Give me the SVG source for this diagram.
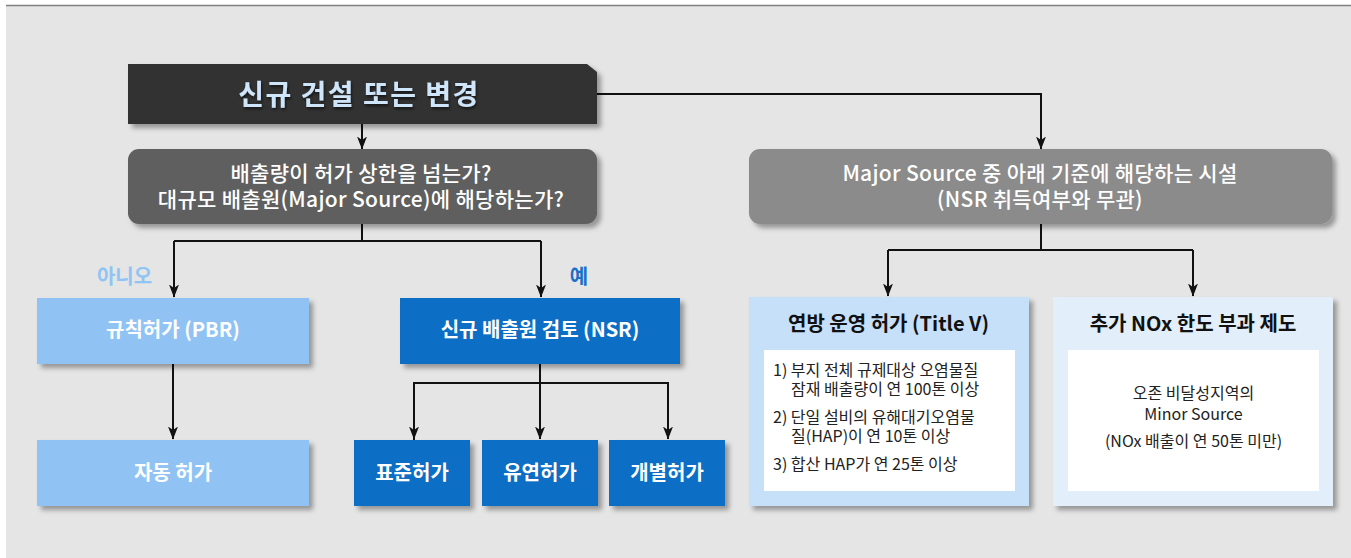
<svg xmlns="http://www.w3.org/2000/svg" width="1351" height="558" viewBox="0 0 1351 558">
  <style>
    .t { font-family: "Noto Sans CJK KR", "Noto Sans", sans-serif; }
    .lbl { font-size: 20px; font-weight: 700; fill: #ffffff; text-anchor: middle; }
    .q { font-size: 21px; font-weight: 500; fill: #ffffff; text-anchor: middle; letter-spacing: 0.3px; }
    .hd { font-size: 20px; font-weight: 700; fill: #111111; text-anchor: middle; }
    .body { font-size: 16px; font-weight: 400; fill: #222222; }
    .conn { fill: none; stroke: #111111; stroke-width: 2; }
  </style>
  <defs>
    <filter id="sh" x="-10%" y="-10%" width="130%" height="140%">
      <feDropShadow dx="4" dy="4" stdDeviation="2.5" flood-color="#000000" flood-opacity="0.35"/>
    </filter>
    <filter id="tsh" x="-10%" y="-20%" width="120%" height="160%">
      <feDropShadow dx="1" dy="2" stdDeviation="1.5" flood-color="#000000" flood-opacity="0.6"/>
    </filter>
    <marker id="ah" markerUnits="userSpaceOnUse" markerWidth="13" markerHeight="10" viewBox="0 0 13 10" refX="12.5" refY="5" orient="auto">
      <path d="M0,0 L13,5 L0,10 L3.5,5 Z" fill="#111111"/>
    </marker>
  </defs>

  <!-- background -->
  <rect x="6" y="5" width="1345" height="553" fill="#e5e5e5"/>
  <line x1="6" y1="5.5" x2="1351" y2="5.5" stroke="#808080" stroke-width="1.5"/>

  <!-- connectors -->
  <g id="connectors">
    <path class="conn" d="M362,124 L362,149" marker-end="url(#ah)"/>
    <path class="conn" d="M597,94 L1041,94 L1041,149" marker-end="url(#ah)"/>
    <path class="conn" d="M362,224 L362,241"/>
    <path class="conn" d="M174,241 L541,241"/>
    <path class="conn" d="M174,241 L174,297" marker-end="url(#ah)"/>
    <path class="conn" d="M541,241 L541,297" marker-end="url(#ah)"/>
    <path class="conn" d="M173,364 L173,439" marker-end="url(#ah)"/>
    <path class="conn" d="M540,364 L540,439" marker-end="url(#ah)"/>
    <path class="conn" d="M414,440 L414,383 L668,383 L668,439" marker-end="url(#ah)"/>
    <path class="conn" d="M414,383 L414,439" marker-end="url(#ah)"/>
    <path class="conn" d="M1041,224 L1041,250"/>
    <path class="conn" d="M888,250 L1193,250"/>
    <path class="conn" d="M888,250 L888,296" marker-end="url(#ah)"/>
    <path class="conn" d="M1193,250 L1193,296" marker-end="url(#ah)"/>
  </g>

  <!-- start node -->
  <g id="start">
    <polygon points="128,64 587,64 597,72 597,124 128,124" fill="#333333" filter="url(#sh)"/>
    <text class="t" x="359" y="105" font-size="28" font-weight="700" fill="#cfe5fa" text-anchor="middle" letter-spacing="1.5" filter="url(#tsh)">신규 건설 또는 변경</text>
  </g>

  <!-- decision -->
  <g id="decision">
    <rect x="128" y="149" width="469" height="75" rx="11" fill="#5e5e5e" filter="url(#sh)"/>
    <text class="t q" x="361" y="181">배출량이 허가 상한을 넘는가?</text>
    <text class="t q" x="361" y="207">대규모 배출원(Major Source)에 해당하는가?</text>
  </g>

  <!-- major source criteria -->
  <g id="major">
    <rect x="749" y="149" width="583" height="75" rx="11" fill="#8b8b8b" filter="url(#sh)"/>
    <text class="t q" x="1040" y="181">Major Source 중 아래 기준에 해당하는 시설</text>
    <text class="t q" x="1040" y="207">(NSR 취득여부와 무관)</text>
  </g>

  <!-- branch labels -->
  <g id="label-no">
    <text class="t" x="124.5" y="284" font-size="20" font-weight="700" fill="#90c4f4" text-anchor="middle">아니오</text>
  </g>
  <g id="label-yes">
    <text class="t" x="579" y="284" font-size="20" font-weight="700" fill="#1a6fc9" text-anchor="middle">예</text>
  </g>

  <!-- PBR -->
  <g id="pbr">
    <rect x="37" y="298" width="272" height="66" fill="#90c3f3" filter="url(#sh)"/>
    <text class="t lbl" x="173" y="337">규칙허가 (PBR)</text>
  </g>
  <g id="auto">
    <rect x="37" y="440" width="272" height="66" fill="#90c3f3" filter="url(#sh)"/>
    <text class="t lbl" x="173" y="480">자동 허가</text>
  </g>

  <!-- NSR -->
  <g id="nsr">
    <rect x="400" y="298" width="280" height="66" fill="#106ec6" filter="url(#sh)"/>
    <text class="t lbl" x="540" y="337">신규 배출원 검토 (NSR)</text>
  </g>
  <g id="standard">
    <rect x="354" y="440" width="116" height="66" fill="#106ec6" filter="url(#sh)"/>
    <text class="t lbl" x="412" y="480">표준허가</text>
  </g>
  <g id="flexible">
    <rect x="482" y="440" width="116" height="66" fill="#106ec6" filter="url(#sh)"/>
    <text class="t lbl" x="540" y="480">유연허가</text>
  </g>
  <g id="individual">
    <rect x="609" y="440" width="116" height="66" fill="#106ec6" filter="url(#sh)"/>
    <text class="t lbl" x="667" y="480">개별허가</text>
  </g>

  <!-- Title V -->
  <g id="titlev">
    <rect x="749" y="297" width="280" height="209" fill="#c5e0f8" filter="url(#sh)"/>
    <text class="t hd" x="888.5" y="331">연방 운영 허가 (Title V)</text>
    <rect x="764" y="350" width="251" height="141" fill="#ffffff"/>
    <text class="t body" x="773" y="376">1) 부지 전체 규제대상 오염물질</text>
    <text class="t body" x="791" y="395">잠재 배출량이 연 100톤 이상</text>
    <text class="t body" x="773" y="423">2) 단일 설비의 유해대기오염물</text>
    <text class="t body" x="791" y="442">질(HAP)이 연 10톤 이상</text>
    <text class="t body" x="773" y="470">3) 합산 HAP가 연 25톤 이상</text>
  </g>

  <!-- NOx -->
  <g id="nox">
    <rect x="1053" y="297" width="280" height="209" fill="#e2eefa" filter="url(#sh)"/>
    <text class="t hd" x="1193" y="331">추가 NOx 한도 부과 제도</text>
    <rect x="1068" y="350" width="251" height="141" fill="#ffffff"/>
    <text class="t body" x="1193.5" y="399" text-anchor="middle">오존 비달성지역의</text>
    <text class="t body" x="1193.5" y="420" text-anchor="middle">Minor Source</text>
    <text class="t body" x="1193.5" y="447" text-anchor="middle">(NOx 배출이 연 50톤 미만)</text>
  </g>
</svg>
